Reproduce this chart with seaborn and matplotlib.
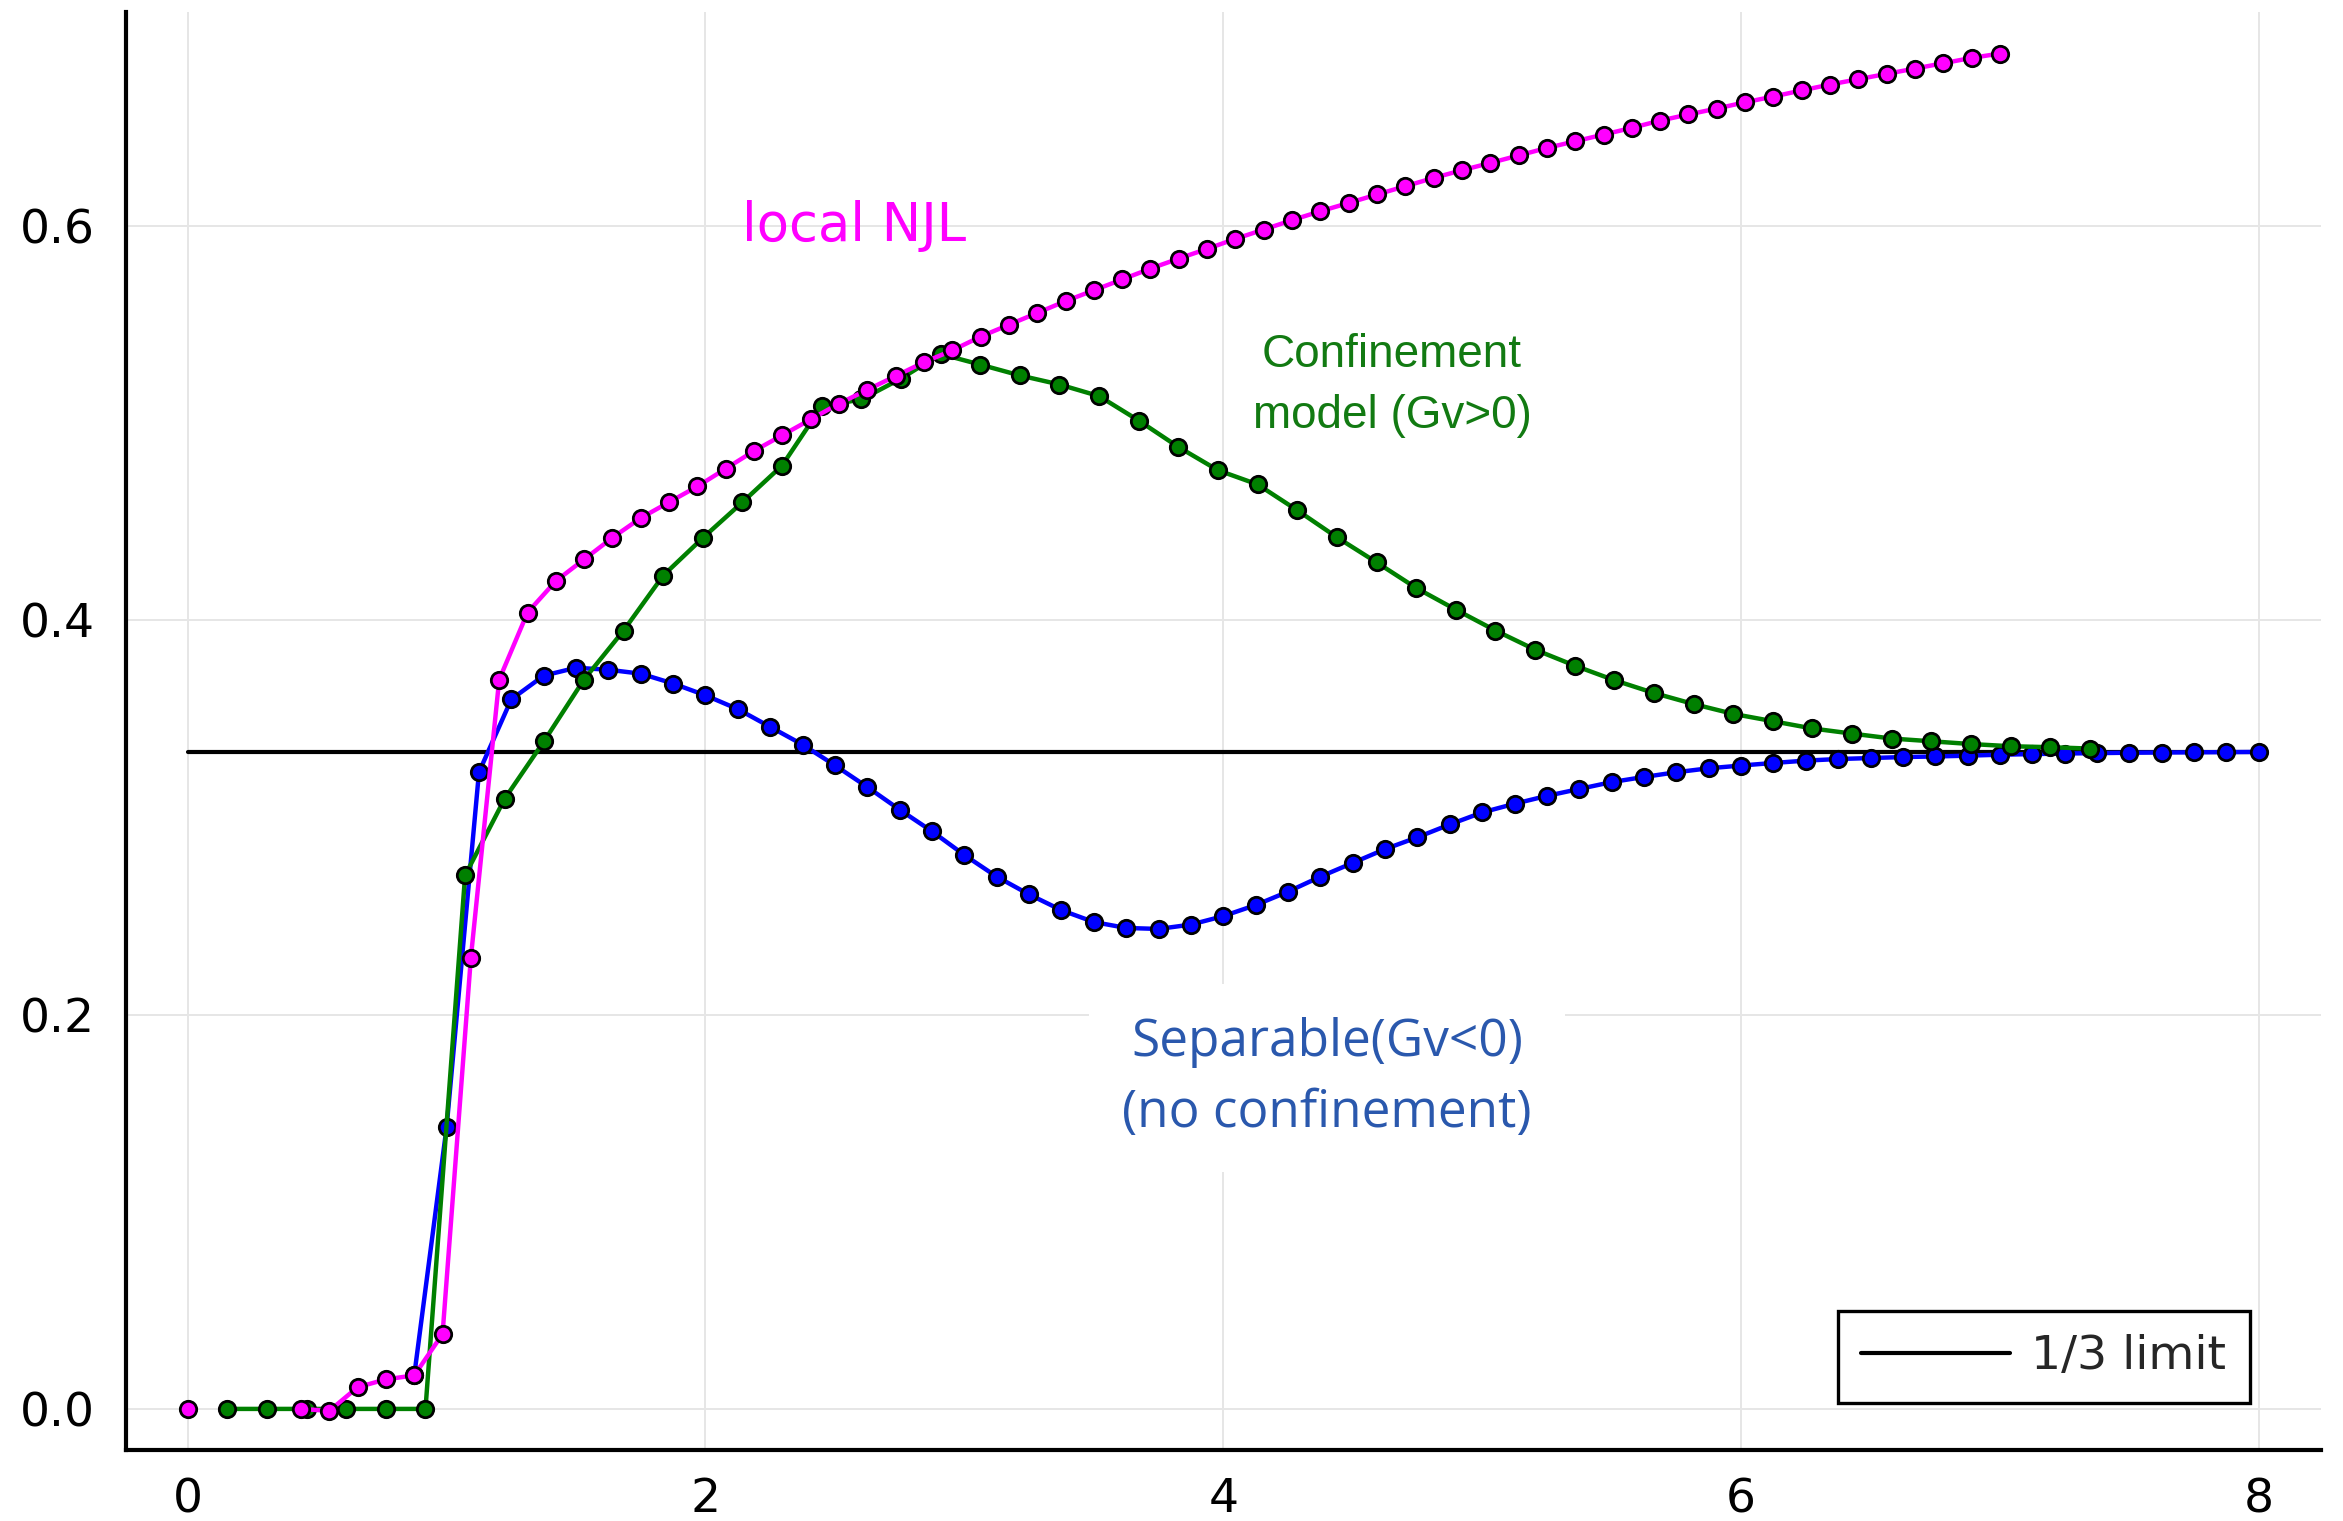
import numpy as np
import matplotlib
matplotlib.use("Agg")
import matplotlib.pyplot as plt
import seaborn as sns

# ---- data -------------------------------------------------------------
# local NJL: isolated point at 0, then a regular grid of step 7/64 up to 7
x_njl0 = [0.0]
y_njl0 = [0.0]
x_njl = np.arange(4, 65) * 7.0 / 64.0
y_njl = [0.000, -0.001, 0.011, 0.015, 0.017, 0.038, 0.229, 0.370, 0.404, 0.420,
         0.431, 0.442, 0.452, 0.460, 0.468, 0.477, 0.486, 0.494, 0.502, 0.510,
         0.517, 0.524, 0.531, 0.537, 0.544, 0.550, 0.556, 0.562, 0.5675, 0.573,
         0.5785, 0.5836, 0.5885, 0.5936, 0.5983, 0.6031, 0.6076, 0.6118, 0.6161, 0.6203,
         0.6245, 0.6284, 0.6321, 0.6359, 0.6397, 0.6431, 0.6465, 0.6499, 0.6536, 0.6567,
         0.6597, 0.6629, 0.6658, 0.6689, 0.6719, 0.6746, 0.6773, 0.680, 0.6827, 0.6854,
         0.6876]

# confinement model (Gv>0)
x_conf = np.arange(1, 49) * 7.5 / 49.0
y_conf = [0.0, 0.0, 0.0, 0.0, 0.0, 0.0, 0.2707, 0.3096, 0.339, 0.370,
          0.3949, 0.4228, 0.4419, 0.460, 0.4786, 0.5087, 0.5121, 0.5227, 0.5352, 0.5298,
          0.5243, 0.5197, 0.5138, 0.5014, 0.488, 0.4762, 0.469, 0.4559, 0.4422, 0.4295,
          0.4165, 0.4055, 0.3949, 0.3852, 0.3771, 0.3697, 0.3632, 0.3576, 0.3526, 0.3489,
          0.3452, 0.3426, 0.3401, 0.3387, 0.3373, 0.3362, 0.3357, 0.335]

# separable model (Gv<0), step 1/8
x_sep = np.arange(7, 65) * 0.125
y_sep = [0.017, 0.143, 0.323, 0.360, 0.372, 0.376, 0.375, 0.373, 0.368, 0.362,
         0.355, 0.346, 0.337, 0.3265, 0.3155, 0.304, 0.293, 0.281, 0.270, 0.261,
         0.253, 0.247, 0.244, 0.2435, 0.2457, 0.250, 0.2556, 0.2624, 0.270, 0.277,
         0.284, 0.290, 0.2965, 0.3026, 0.307, 0.311, 0.3145, 0.318, 0.3206, 0.323,
         0.325, 0.3264, 0.3277, 0.3289, 0.3297, 0.3302, 0.3307, 0.331, 0.3314, 0.3319,
         0.3322, 0.3325, 0.3327, 0.3329, 0.333, 0.3331, 0.3332, 0.3333]

# conformal limit
x_lim = [0.0, 8.0]
y_lim = [1.0 / 3.0, 1.0 / 3.0]

xticks = [0, 2, 4, 6, 8]
yticks = [0.0, 0.2, 0.4, 0.6]

# ---- style ------------------------------------------------------------
sns.set_style("white")
plt.rcParams["font.family"] = ["DejaVu Sans"]

fig = plt.figure(figsize=(2343 / 200, 1521 / 200), dpi=200)
ax = fig.add_axes([0.0536, 0.047, 0.9370, 0.945])

mk = dict(marker="o", markersize=5.9, markeredgecolor="black",
          markeredgewidth=1.0, linewidth=1.6, estimator=None, sort=False,
          ax=ax, legend=False)

sns.lineplot(x=x_lim, y=y_lim, color="black", linewidth=1.5,
             label="1/3 limit", estimator=None, sort=False, ax=ax)
sns.lineplot(x=x_sep, y=y_sep, color="#0000ff", **mk)
sns.lineplot(x=x_conf, y=y_conf, color="#008000", **mk)
sns.lineplot(x=x_njl, y=y_njl, color="#ff00ff", **mk)
sns.scatterplot(x=x_njl0, y=y_njl0, color="#ff00ff", s=5.9 ** 2,
                edgecolor="black", linewidth=1.0, ax=ax, legend=False, zorder=3)

ax.set_xlim(-0.24, 8.24)
ax.set_ylim(-0.0206, 0.7086)
ax.set_xticks(xticks)
ax.set_yticks(yticks)
ax.set_xticklabels([str(t) for t in xticks])
ax.set_yticklabels([f"{t:.1f}" for t in yticks])

ax.set_axisbelow(True)
ax.grid(True, color="#e6e6e6", linewidth=0.7)
for side in ("top", "right"):
    ax.spines[side].set_visible(False)
for side in ("left", "bottom"):
    ax.spines[side].set_color("black")
    ax.spines[side].set_linewidth(1.5)
ax.tick_params(direction="in", length=7, width=1.3, color="black",
               labelsize=17, labelcolor="black")
ax.tick_params(axis="y", pad=11)
ax.tick_params(axis="x", pad=10)
ax.set_xlabel("")
ax.set_ylabel("")

leg = ax.legend(loc="lower right", bbox_to_anchor=(0.9677, 0.0323),
                borderaxespad=0, fontsize=17, frameon=True, fancybox=False,
                handlelength=3.15, handletextpad=0.45, borderpad=0.5)
leg.get_frame().set_edgecolor("black")
leg.get_frame().set_linewidth(1.2)
leg.get_frame().set_facecolor("white")
leg.get_frame().set_alpha(1)

# ---- annotations --------------------------------------------------------
ax.text(2.572, 0.600, "local NJL", color="#ff00ff", fontsize=19,
        ha="center", va="center", family="DejaVu Sans", zorder=4)
ax.text(4.652, 0.519, "Confinement\nmodel (Gv>0)", color="#127a12",
        fontsize=16.5, ha="center", va="center", family="Liberation Sans",
        linespacing=1.5, zorder=1,
        bbox=dict(facecolor="white", edgecolor="none", pad=10))
ax.text(4.40, 0.168, "Separable(Gv<0)\n(no confinement)", color="#2a58ad",
        fontsize=18.5, ha="center", va="center", family="Open Sans",
        linespacing=1.5, zorder=1,
        bbox=dict(facecolor="white", edgecolor="none", pad=12))

fig.savefig("out.png", dpi=200)
